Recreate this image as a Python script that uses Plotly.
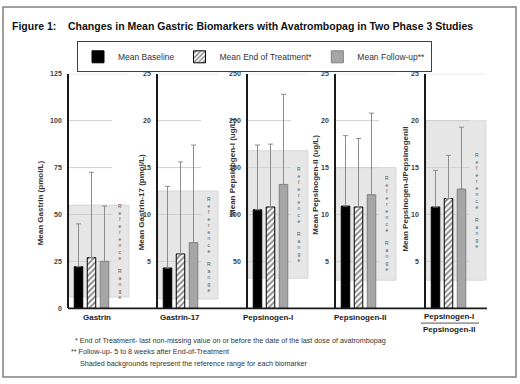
import plotly.graph_objects as go

# ---------------- data ----------------
biomarkers = ["Gastrin", "Gastrin-17", "Pepsinogen-I", "Pepsinogen-II", "Pepsinogen-I/Pepsinogen-II"]
series_names = ["Mean Baseline", "Mean End of Treatment*", "Mean Follow-up**"]
y_titles = ["Mean Gastrin (pmol/L)", "Mean Gastrin-17 (pmol/L)", "Mean Pepsinogen-I (ug/L)",
            "Mean Pepsinogen-II (ug/L)", "Mean Pepsinogen-I/PepsinogenII"]
baseline = [22.2, 4.3, 105, 10.9, 10.8]
end_of_treatment = [27.0, 5.8, 108, 10.8, 11.7]
follow_up = [25.0, 7.0, 132, 12.1, 12.7]
baseline_upper = [45, 13.0, 174, 18.4, 14.7]
eot_upper = [72.5, 15.6, 175, 18.1, 16.3]
fu_upper = [54.5, 17.4, 228, 20.8, 19.3]
ref_low = [6, 1.0, 32, 3, 3]
ref_high = [55, 12.5, 168, 15, 20]
y_max = [125, 25, 250, 25, 25]
y_step = [25, 5, 50, 5, 5]
footnotes = ["* End of Treatment- last non-missing value on or before the date of the last dose of avatrombopag",
             "** Follow-up- 5 to 8 weeks after End-of-Treatment",
             "Shaded backgrounds represent the reference range for each biomarker"]
title_text = "Figure 1:    Changes in Mean Gastric Biomarkers with Avatrombopag in Two Phase 3 Studies"

# ---------------- layout helpers ----------------
W, H = 520, 384
def px(x):
    return x / W
def py(y):
    return 1 - y / H

FONT = "Liberation Sans, Arial, sans-serif"
axis_x0 = [69, 158, 248, 336, 426]
Y_TOP, Y_BOT = 71, 310
PITCH = 13.0
FIRST = 9.5
PLOT_W = 43
SHADE_W = 60

fig = go.Figure()
shapes = []
annotations = []

styles = [
    dict(color="black", line=dict(color="black", width=1)),
    dict(color="white", line=dict(color="black", width=1),
         pattern=dict(shape="/", fgcolor="black", bgcolor="white", size=4, solidity=0.45)),
    dict(color="#a6a6a6", line=dict(color="#7f7f7f", width=1)),
]
values = [baseline, end_of_treatment, follow_up]
uppers = [baseline_upper, eot_upper, fu_upper]

for i in range(5):
    n = i + 1
    xa = "x" if n == 1 else f"x{n}"
    ya = "y" if n == 1 else f"y{n}"
    x0 = axis_x0[i]
    for s in range(3):
        v = values[s][i]
        fig.add_trace(go.Bar(
            x=[s], y=[v], name=series_names[s], xaxis=xa, yaxis=ya,
            width=8.5 / PITCH, marker=styles[s], showlegend=(i == 0),
            error_y=dict(type="data", symmetric=False, array=[uppers[s][i] - v], arrayminus=[0],
                         color="#8c8c8c", thickness=1, width=2.5),
            hoverinfo="skip",
        ))
    r0 = -FIRST / PITCH
    r1 = (PLOT_W - FIRST) / PITCH
    fig.layout[f"xaxis{'' if n == 1 else n}"] = dict(
        domain=[px(x0), px(x0 + PLOT_W)], range=[r0, r1], anchor=ya,
        showgrid=False, zeroline=False, showline=False, showticklabels=False, fixedrange=True)
    tv = list(range(0 if i == 0 else y_step[i], y_max[i] + 1, y_step[i]))
    fig.layout[f"yaxis{'' if n == 1 else n}"] = dict(
        domain=[py(Y_BOT), py(Y_TOP)], range=[0, y_max[i]], anchor=xa,
        tickvals=tv, showgrid=False, zeroline=False, showline=True, linecolor="#1a1a1a", linewidth=1.6,
        ticks="", ticklabelstandoff=4,
        tickfont=dict(family=FONT, size=7, color="#404040", weight="bold"), fixedrange=True)
    # reference range shade
    shapes.append(dict(type="rect", xref="paper", yref=ya, x0=px(x0), x1=px(x0 + SHADE_W),
                       y0=ref_low[i], y1=ref_high[i], fillcolor="#e6e6e6",
                       line=dict(color="#d2d2d2", width=0.8), layer="below"))
    # gridlines
    for t in range(y_step[i], y_max[i] + 1, y_step[i]):
        ext = SHADE_W if t == y_max[i] else PLOT_W
        shapes.append(dict(type="line", xref="paper", yref=ya, x0=px(x0), x1=px(x0 + ext),
                           y0=t, y1=t, line=dict(color="#cfcfcf", width=1), layer="below"))
    # stacked "Reference Range" text
    stacked = "<br>".join(list("Reference")) + "<br> <br>" + "<br>".join(list("Range"))
    annotations.append(dict(text=stacked, xref="paper", yref=ya, x=px(x0 + 51),
                            y=(ref_low[i] + ref_high[i]) / 2, showarrow=False,
                            font=dict(family=FONT, size=5, color="#555555"),
                            xanchor="center", yanchor="middle"))

# y-axis titles (positions in px: x, y-center)
ytitle_pos = [(40, 203), (141, 202), (233, 166), (316, 184), (406, 189)]
for i in range(5):
    annotations.append(dict(text=y_titles[i], xref="paper", yref="paper",
                            x=px(ytitle_pos[i][0]), y=py(ytitle_pos[i][1]), textangle=-90,
                            showarrow=False, xanchor="center", yanchor="middle",
                            font=dict(family=FONT, size=8, color="#333333", weight="bold")))

# x category labels
xlab_pos = [97, 180, 268, 360]
for i in range(4):
    annotations.append(dict(text=biomarkers[i], xref="paper", yref="paper", x=px(xlab_pos[i]),
                            y=py(319), showarrow=False, xanchor="center", yanchor="middle",
                            font=dict(family=FONT, size=8, color="#222222", weight="bold")))
num, den = biomarkers[4].split("/")
annotations.append(dict(text=num, xref="paper", yref="paper", x=px(449), y=py(318.5), showarrow=False,
                        xanchor="center", yanchor="middle",
                        font=dict(family=FONT, size=8, color="#222222", weight="bold")))
annotations.append(dict(text=den, xref="paper", yref="paper", x=px(449), y=py(332), showarrow=False,
                        xanchor="center", yanchor="middle",
                        font=dict(family=FONT, size=8, color="#222222", weight="bold")))
shapes.append(dict(type="line", xref="paper", yref="paper", x0=px(421), x1=px(479), y0=py(325), y1=py(325),
                   line=dict(color="#555555", width=1)))

# continuous baseline
shapes.append(dict(type="line", xref="paper", yref="paper", x0=px(68), x1=px(487), y0=py(310), y1=py(310),
                   line=dict(color="#1a1a1a", width=1.6)))

# footnotes
foot_pos = [(73, 343), (69, 354), (78, 366)]
for t, (fx, fy) in zip(footnotes, foot_pos):
    annotations.append(dict(text=t, xref="paper", yref="paper", x=px(fx), y=py(fy), showarrow=False,
                            xanchor="left", yanchor="middle",
                            font=dict(family=FONT, size=7.2, color="#333333")))

# title
annotations.append(dict(text=title_text, xref="paper", yref="paper", x=px(10), y=py(22), showarrow=False,
                        xanchor="left", yanchor="middle",
                        font=dict(family=FONT, size=10.5, color="#111111", weight="bold")))

# outer frame
shapes.append(dict(type="rect", xref="paper", yref="paper", x0=px(3), x1=px(516), y0=py(3), y1=py(380),
                   line=dict(color="#808080", width=1.5), fillcolor="rgba(0,0,0,0)"))

fig.update_layout(
    width=W, height=H, autosize=False,
    margin=dict(l=0, r=0, t=0, b=0),
    paper_bgcolor="white", plot_bgcolor="rgba(0,0,0,0)",
    barmode="overlay", shapes=shapes, annotations=annotations,
    showlegend=True,
    legend=dict(orientation="h", x=px(77), y=py(38), xanchor="left", yanchor="top",
                bordercolor="#404040", borderwidth=1, bgcolor="white",
                font=dict(family=FONT, size=8.5, color="#333333"), itemclick=False),
    font=dict(family=FONT),
)

fig.write_html("out.html", config={"displayModeBar": False},
               post_script="document.body.style.margin='0';document.body.style.overflow='hidden';")
